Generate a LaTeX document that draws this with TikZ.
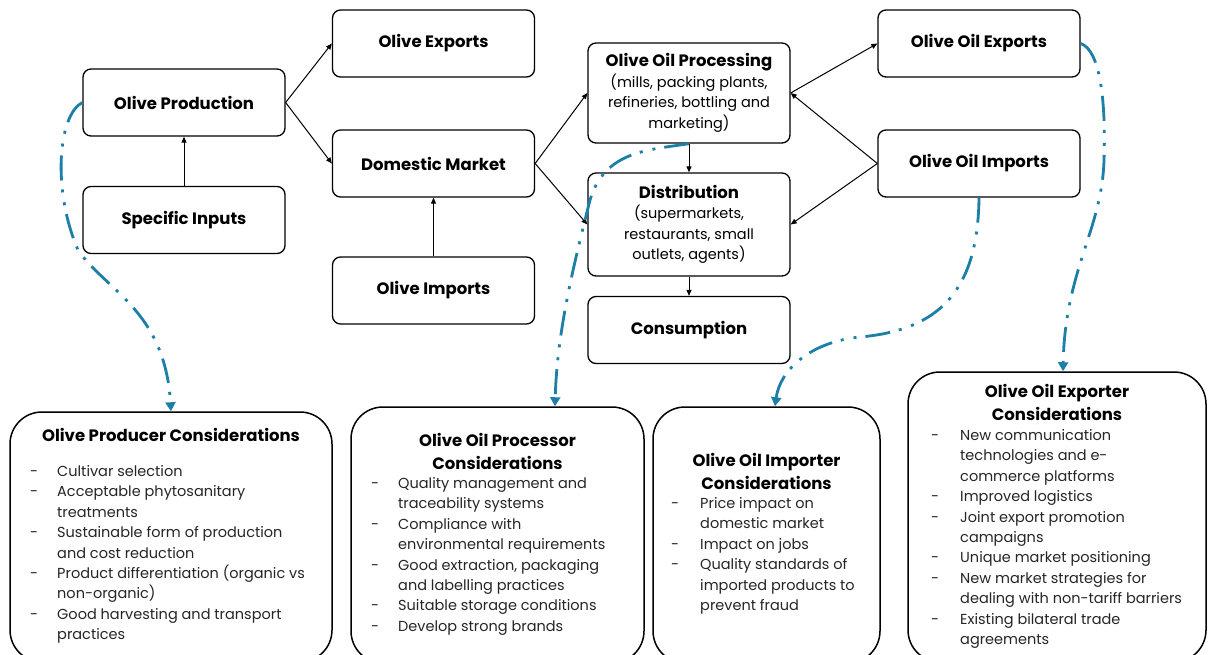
\documentclass[tikz,border=0pt]{standalone}
\usepackage{fontspec,array}
\setmainfont{Poppins}
\usetikzlibrary{arrows.meta,positioning,calc}
\definecolor{Flow}{HTML}{1B7FA6}

\begin{document}
\begin{tikzpicture}[x=1pt,y=-1pt,>={Triangle[length=6pt,width=5pt]},
box/.style={draw,line width=1.3pt,rounded corners=8pt,minimum width=202pt,minimum height=67pt,align=center,font=\fontsize{16.5}{20.5}\selectfont\bfseries},
card/.style={draw,line width=1.5pt,rounded corners=32pt},
ttl/.style={align=center,font=\fontsize{16.5}{23}\selectfont\bfseries},
lst/.style={anchor=north west,inner sep=0pt,text=black!85,font=\fontsize{14.5}{20.4}\selectfont},
link/.style={->,line width=1pt},
hint/.style={Flow,line width=2.8pt,dash pattern=on 25pt off 9pt on 3pt off 10pt on 3pt off 9pt,-{Triangle[length=9pt,width=10pt]}}]
\useasboundingbox(0,0)rectangle(1208,655);
\fill[white](0,0)rectangle(1208,655);
\clip(0,0)rectangle(1208,655);
% value chain
\node[box](prod)at(184,102.5){Olive Production};
\node[box](inp)at(184,220){Specific Inputs};
\node[box](oexp)at(433.5,43.5){Olive Exports};
\node[box](dom)at(433.5,163.5){Domestic Market};
\node[box](oimp)at(433.5,290.5){Olive Imports};
\node[box,minimum height=100pt](proc)at(689,93){Olive Oil Processing\\\mdseries\fontsize{14.5}{20.5}\selectfont(mills, packing plants,\\\mdseries\fontsize{14.5}{20.5}\selectfont refineries, bottling and\\\mdseries\fontsize{14.5}{20.5}\selectfont marketing)};
\node[box,minimum height=103pt](dist)at(689,224.5){Distribution\\\mdseries\fontsize{14.5}{20.5}\selectfont(supermarkets,\\\mdseries\fontsize{14.5}{20.5}\selectfont restaurants, small\\\mdseries\fontsize{14.5}{20.5}\selectfont outlets, agents)};
\node[box](cons)at(689,330){Consumption};
\node[box](ooexp)at(979,43.5){Olive Oil Exports};
\node[box](ooimp)at(979,163.5){Olive Oil Imports};
\draw[link](inp)--(prod);
\draw[link](prod.east)--(oexp.west);
\draw[link](prod.east)--(dom.west);
\draw[link](oimp)--(dom);
\draw[link](dom.east)--(proc.west);
\draw[link](dom.east)--(dist.west);
\draw[link](proc)--(dist);
\draw[link](dist)--(cons);
\draw[link](proc.east)--(ooexp.west);
\draw[link](ooimp.west)--(proc.east);
\draw[link](ooimp.west)--(dist.east);
% considerations
\node[card,minimum width=322pt,minimum height=250pt](pcon)at(171,537){};
\node[card,minimum width=293pt,minimum height=256pt](ocon)at(497.5,535){};
\node[card,minimum width=227pt,minimum height=256pt](icon)at(766.5,535){};
\node[card,minimum width=298pt,minimum height=290pt](econ)at(1057,517){};
\node[ttl](pttl)at(171,435){Olive Producer Considerations};
\node[ttl](ottl)at(497.5,451.5){Olive Oil Processor\\Considerations};
\node[ttl](ittl)at(766.5,471.5){Olive Oil Importer\\Considerations};
\node[ttl](ettl)at(1057,402.5){Olive Oil Exporter\\Considerations};
\node[lst](plist)at(30,462){\begin{tabular}{@{}p{27pt}@{}l@{}}
-&Cultivar selection\\
-&Acceptable phytosanitary\\
&treatments\\
-&Sustainable form of production\\
&and cost reduction\\
-&Product differentiation (organic vs\\
&non-organic)\\
-&Good harvesting and transport\\
&practices
\end{tabular}};
\node[lst](olist)at(371,474){\begin{tabular}{@{}p{27pt}@{}l@{}}
-&Quality management and\\
&traceability systems\\
-&Compliance with\\
&environmental requirements\\
-&Good extraction, packaging\\
&and labelling practices\\
-&Suitable storage conditions\\
-&Develop strong brands
\end{tabular}};
\node[lst](ilist)at(671,494){\begin{tabular}{@{}p{29pt}@{}l@{}}
-&Price impact on\\
&domestic market\\
-&Impact on jobs\\
-&Quality standards of\\
&imported products to\\
&prevent fraud
\end{tabular}};
\node[lst](elist)at(931,426){\begin{tabular}{@{}p{29pt}@{}l@{}}
-&New communication\\
&technologies and e-\\
&commerce platforms\\
-&Improved logistics\\
-&Joint export promotion\\
&campaigns\\
-&Unique market positioning\\
-&New market strategies for\\
&dealing with non-tariff barriers\\
-&Existing bilateral trade\\
&agreements
\end{tabular}};
\draw[hint](prod.west)..controls(58,115)and(52,190)..(78,250)..controls(105,290)and(165,310)..(pcon.north);
\draw[hint](proc.south)..controls(650,150)and(605,150)..(590,200)..controls(575,260)and(557,330)..([xshift=57.5pt]ocon.north);
\draw[hint](ooimp.south)..controls(978,290)and(940,330)..(860,337)..controls(810,342)and(780,370)..([xshift=8.5pt]icon.north);
\draw[hint](ooexp.east)..controls(1100,50)and(1106,100)..(1104,160)..controls(1102,230)and(1065,270)..([xshift=6pt]econ.north);
\end{tikzpicture}
\end{document}
